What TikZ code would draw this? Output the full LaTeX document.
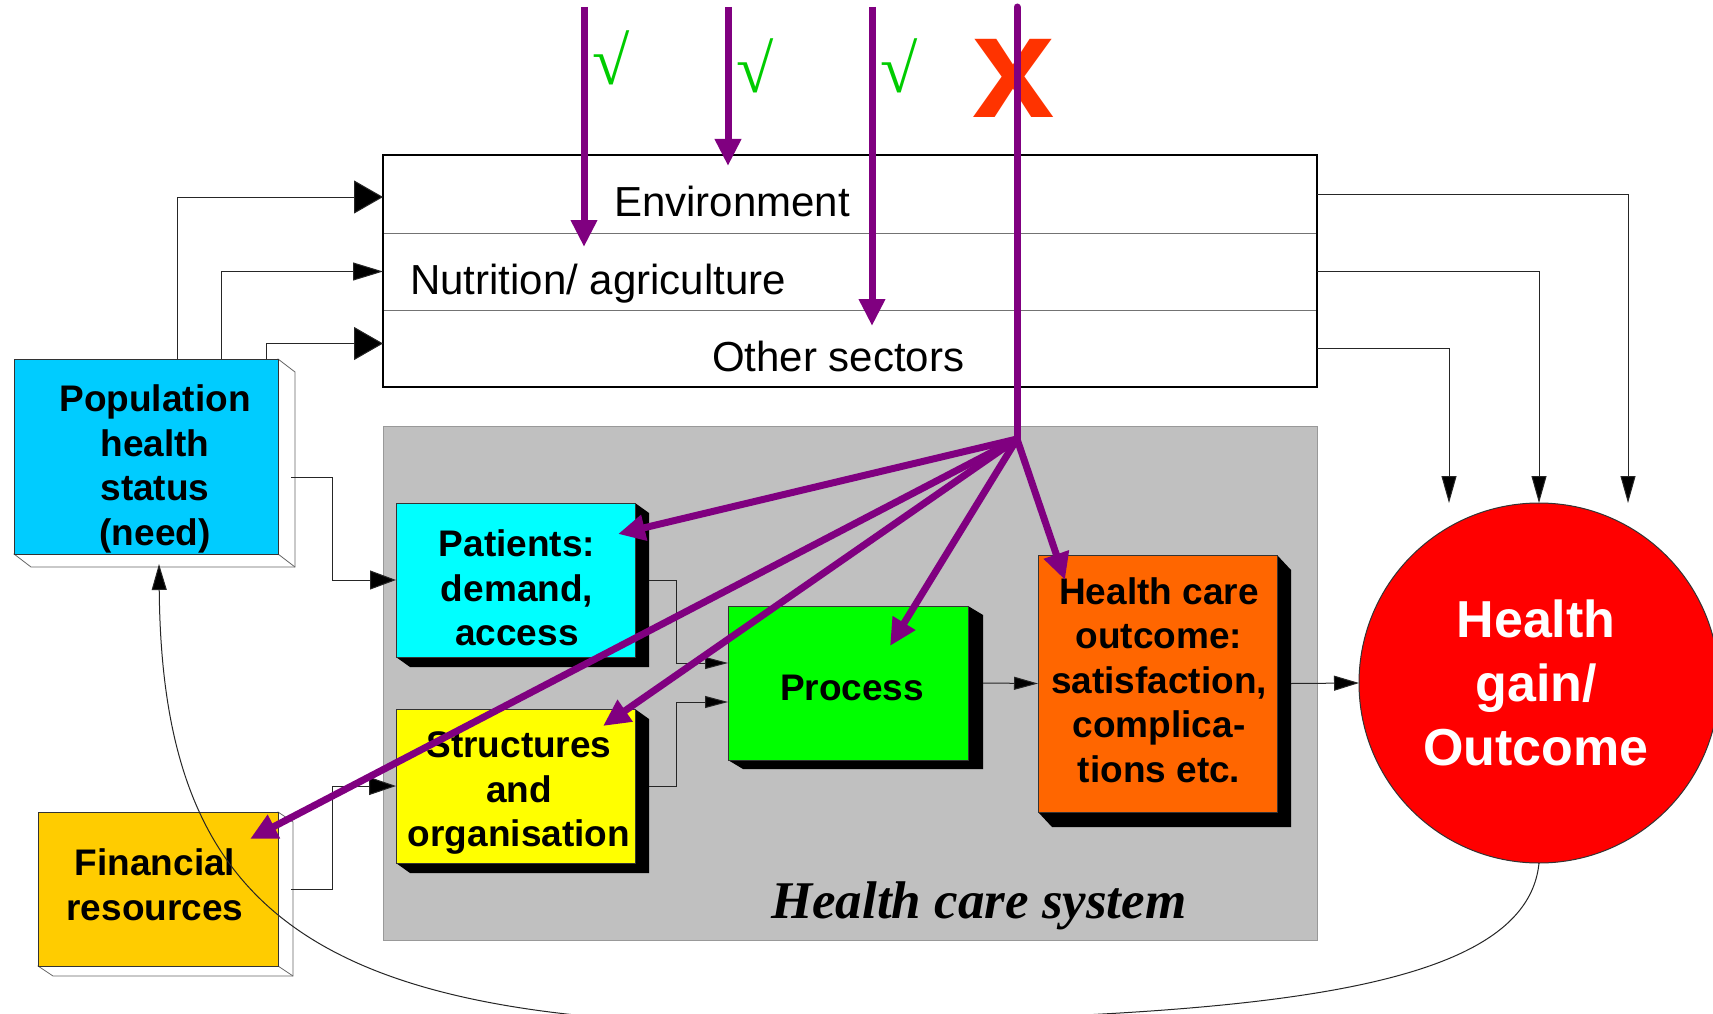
\documentclass[tikz,border=0pt]{standalone}
\usepackage{fontspec}
\setmainfont{Liberation Sans}
\newfontfamily\serfam{Liberation Serif}
\usetikzlibrary{arrows.meta,calc}
\pgfdeclarelayer{back}
\pgfdeclarelayer{mid}
\pgfsetlayers{back,mid,main}
\definecolor{popc}{HTML}{00CCFF}
\definecolor{patc}{HTML}{00FFFF}
\definecolor{strc}{HTML}{FFFF00}
\definecolor{procc}{HTML}{00FF00}
\definecolor{outc}{HTML}{FF6600}
\definecolor{finc}{HTML}{FFCC00}
\definecolor{hgc}{HTML}{FF0000}
\definecolor{hcsc}{HTML}{C0C0C0}
\definecolor{purp}{HTML}{800080}
\definecolor{chkg}{HTML}{00CC00}
\definecolor{xred}{HTML}{FF3300}
\tikzset{
  fbox/.style={rectangle, draw=black!80, line width=1pt, inner sep=0pt, outer sep=0pt},
  rowbox/.style={rectangle, draw=black!55, line width=1pt, minimum width=934, inner sep=0pt, outer sep=0pt},
  lbl/.style={font=\bfseries\fontsize{37}{44.5}\selectfont, align=center, inner sep=0pt},
  hlbl/.style={font=\bfseries\fontsize{52}{64}\selectfont, text=white, align=center, inner sep=0pt},
  stxt/.style={font=\fontsize{42}{50}\selectfont, inner sep=0pt, anchor=base west},
  chk/.style={font=\serfam\fontsize{68}{72}\selectfont, text=chkg, inner sep=0pt},
  conn/.style={draw=black!85, line width=1pt},
  pline/.style={draw=purp, line width=7pt},
  parr/.style={draw=purp, line width=7pt, -{Triangle[length=27pt,width=25pt]}},
  ext/.style={fill=white, draw=black!60, line width=0.8pt},
}
\begin{document}
\begin{tikzpicture}[x=1pt,y=-1pt, >={Triangle[fill=black]}]
\useasboundingbox (0,0) rectangle (1713,1014);
\begin{pgfonlayer}{back}
  \fill[white] (0,0) rectangle (1713,1014);
  \node[rectangle, fill=hcsc, draw=black!40, line width=0.8pt, minimum width=934, minimum height=514, inner sep=0pt, outer sep=0pt] (hcs) at (850,683) {};
\end{pgfonlayer}

% sector rows
\node[rowbox, minimum height=78] (env) at (850,194) {};
\node[rowbox, minimum height=77] (nut) at (850,271.5) {};
\node[rowbox, minimum height=77] (oth) at (850,348.5) {};
\draw[black, line width=1.3pt] (env.north west) rectangle (oth.south east);

% boxes
\node[fbox, fill=popc, minimum width=264, minimum height=195] (pop) at (146,456.5) {};
\node[fbox, fill=finc, minimum width=240, minimum height=154] (fin) at (158,889) {};
\node[fbox, fill=patc, minimum width=239, minimum height=154] (pat) at (515.5,580) {};
\node[fbox, fill=strc, minimum width=239, minimum height=154] (str) at (515.5,786) {};
\node[fbox, fill=procc, minimum width=240, minimum height=154] (proc) at (848,683) {};
\node[fbox, fill=outc, minimum width=239, minimum height=257] (out) at (1157.5,683.5) {};
\node[circle, fill=hgc, draw=black!80, line width=1pt, minimum size=360, inner sep=0pt, outer sep=0pt] (hg) at (1539,683) {};

\begin{pgfonlayer}{mid}
  \foreach \n/\dx/\dy in {pat/14/10, str/14/10, proc/15/9, out/14/15}{
    \fill[black] (\n.north east) -- ++(\dx,\dy) -- ($(\n.south east)+(\dx,\dy)$) -- ($(\n.south west)+(\dx,\dy)$) -- (\n.south west) -- cycle;
  }
  \foreach \n/\dx/\dy in {pop/17/13, fin/15/10}{
    \filldraw[ext] (\n.north east) -- ++(\dx,\dy) -- ($(\n.south east)+(\dx,\dy)$) -- ($(\n.south west)+(\dx,\dy)$) -- (\n.south west) -- cycle;
    \draw[ext] (\n.south east) -- ++(\dx,\dy);
  }
\end{pgfonlayer}

% labels
\node[lbl] (popt) at (155,469) {Population\\health\\status\\(need)};
\node[lbl] (fint) at (155,885) {Financial\\resources};
\node[lbl] (patt) at (517,588) {Patients:\\demand,\\access};
\node[lbl] (strt) at (519,793) {Structures\\and\\organisation};
\node[lbl] (proct) at (852,688) {Process};
\node[lbl] (outt) at (1159,680) {Health care\\outcome:\\satisfaction,\\complica-\\tions etc.};
\node[hlbl] (hgt) at (1536,683) {Health\\gain/\\Outcome};
\node[stxt] (envt) at (614,216) {Environment};
\node[stxt] (nutt) at (410,294) {Nutrition/ agriculture};
\node[stxt] (otht) at (712,371) {Other sectors};
\node[font=\serfam\bfseries\itshape\fontsize{53}{60}\selectfont, inner sep=0pt, anchor=base west] (hcst) at (771,918) {Health care system};

% black connectors
\draw[conn, -{Triangle[length=29pt,width=33pt,fill=black]}] ($(pop.north west)+(163,0)$) |- ([yshift=-3pt]env.west);
\draw[conn, -{Triangle[length=30pt,width=18pt,fill=black]}] ($(pop.north west)+(207,0)$) |- (nut.west);
\draw[conn, -{Triangle[length=29pt,width=33pt,fill=black]}] ($(pop.north west)+(252,0)$) |- ([yshift=5pt]oth.west);
\draw[conn, -{Triangle[length=27pt,width=15pt,fill=black]}] (env.east) -| ($(hg.north)+(89,0)$);
\draw[conn, -{Triangle[length=27pt,width=15pt,fill=black]}] (nut.east) -| (hg.north);
\draw[conn, -{Triangle[length=27pt,width=15pt,fill=black]}] (oth.east) -| ($(hg.north)+(-90,0)$);
\draw[conn, -{Triangle[length=26pt,width=19pt,fill=black]}] ($(pop.east)+(13,21)$) -- ++(41,0) |- (pat.west);
\draw[conn, -{Triangle[length=27pt,width=18pt,fill=black]}] ($(fin.east)+(13,0)$) -- ++(41,0) |- (str.west);
\draw[conn, -{Triangle[length=23pt,width=12pt,fill=black]}] ($(pat.east)+(14,0)$) -- ++(27,0) |- ([yshift=20pt]proc.west);
\draw[conn, -{Triangle[length=23pt,width=12pt,fill=black]}] ($(str.east)+(14,0)$) -- ++(27,0) |- ([yshift=-19pt]proc.west);
\draw[conn, -{Triangle[length=24pt,width=13pt,fill=black]}] ($(proc.east)+(15,0)$) -- (out.west);
\draw[conn, -{Triangle[length=25pt,width=15pt,fill=black]}] ($(out.east)+(14,0)$) -- (hg.west);
\draw[conn, -{Triangle[length=26pt,width=15pt,fill=black]}] (hg.south) .. controls (1525,1005) and (1200,1018) .. (740,1024) .. controls (300,1018) and (162,900) .. ($(pop.south)+(13,10)$);

% marks
\node[font=\bfseries\fontsize{148}{150}\selectfont, text=xred, inner sep=0pt] (xx) at (1014,78) {x};
\node[chk] (c1) at (611,58) {√};
\node[chk] (c2) at (755,66) {√};
\node[chk] (c3) at (899,66) {√};

% purple arrows
\coordinate (t1) at (584,7);
\coordinate (t2) at (728,7);
\coordinate (t3) at (872,7);
\coordinate (t4) at (1017,7);
\coordinate (a1) at (584,247);
\coordinate (a2) at (728,166);
\coordinate (a3) at (872,326);
\coordinate (hub) at (1017,439);
\draw[parr] (t1) -- (a1);
\draw[parr] (t2) -- (a2);
\draw[parr] (t3) -- (a3);
\draw[pline, line cap=round] (t4) -- (hub);
\draw[parr] (hub) -- ($(pat.north east)+(-17,31)$);
\draw[parr] (hub) -- ($(fin.north east)+(-28,27)$);
\draw[parr] (hub) -- ($(str.north east)+(-32,17)$);
\draw[parr] (hub) -- ($(proc.north east)+(-78,40)$);
\draw[parr] (hub) -- ($(out.north west)+(27,25)$);
\end{tikzpicture}
\end{document}
